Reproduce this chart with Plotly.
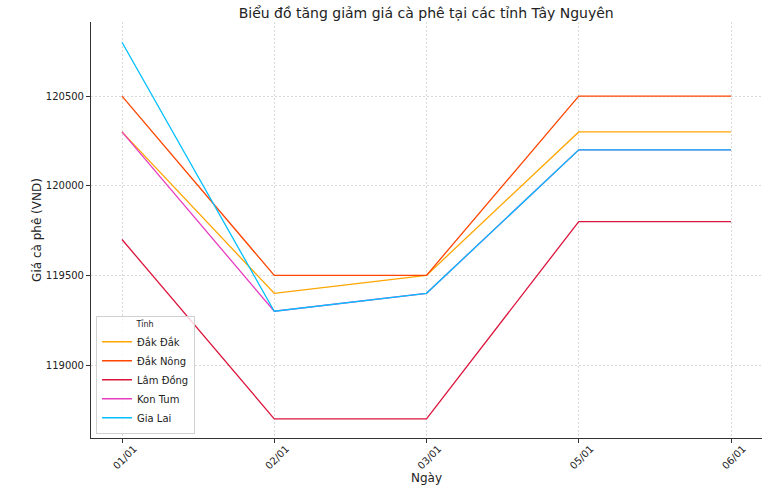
import plotly.graph_objects as go

dates = ["01/01", "02/01", "03/01", "05/01", "06/01"]
dak_dak = [120300, 119400, 119500, 120300, 120300]
dak_nong = [120500, 119500, 119500, 120500, 120500]
lam_dong = [119700, 118700, 118700, 119800, 119800]
kon_tum = [120300, 119300, 119400, 120200, 120200]
gia_lai = [120800, 119300, 119400, 120200, 120200]

series = [
    ("Đắk Đắk", dak_dak, "#FFA500"),
    ("Đắk Nông", dak_nong, "#FF4500"),
    ("Lâm Đồng", lam_dong, "#DC143C"),
    ("Kon Tum", kon_tum, "#E83CC0"),
    ("Gia Lai", gia_lai, "#00BFFF"),
]

fig = go.Figure()
for name, vals, col in series:
    fig.add_trace(go.Scatter(x=dates, y=vals, mode="lines", name=name,
                             line=dict(color=col, width=1.3)))

font = "DejaVu Sans, sans-serif"
fig.update_layout(
    width=770, height=490,
    margin=dict(l=91, r=8, t=22, b=52),
    paper_bgcolor="white", plot_bgcolor="white",
    font=dict(family=font, size=10, color="#222"),
    title=dict(text="Biểu đồ tăng giảm giá cà phê tại các tỉnh Tây Nguyên",
               x=0.5535, xanchor="center", y=0.973, yanchor="middle",
               font=dict(size=14, color="#222")),
    legend=dict(x=0.0075, y=0.01, xanchor="left", yanchor="bottom",
                bgcolor="rgba(255,255,255,0.8)", bordercolor="#d0d0d0",
                borderwidth=1, font=dict(size=10),
                title=dict(text="Tỉnh", side="top center", font=dict(size=8)),
                tracegroupgap=0, itemwidth=30),
    showlegend=True,
)
fig.update_xaxes(
    type="category", range=[-0.2036, 4.2036], automargin=False,
    showline=True, linecolor="#333", linewidth=1, mirror=False,
    ticks="outside", ticklen=4, tickcolor="#333", tickangle=-45,
    ticklabelshift=12, ticklabelstandoff=-4,
    showgrid=True, gridcolor="#d9d9d9", griddash="2px,2px", gridwidth=0.7,
    title=dict(text="Ngày", font=dict(size=12), standoff=0),
    zeroline=False,
)
fig.update_yaxes(
    range=[118593, 120913], automargin=False,
    tickvals=[119000, 119500, 120000, 120500],
    ticktext=["119000", "119500", "120000", "120500"],
    showline=True, linecolor="#333", linewidth=1, mirror=False,
    ticks="outside", ticklen=4, tickcolor="#333",
    showgrid=True, gridcolor="#d9d9d9", griddash="2px,2px", gridwidth=0.7,
    title=dict(text="Giá cà phê (VND)", font=dict(size=12), standoff=1),
    zeroline=False,
)
fig.write_html("out.html")
